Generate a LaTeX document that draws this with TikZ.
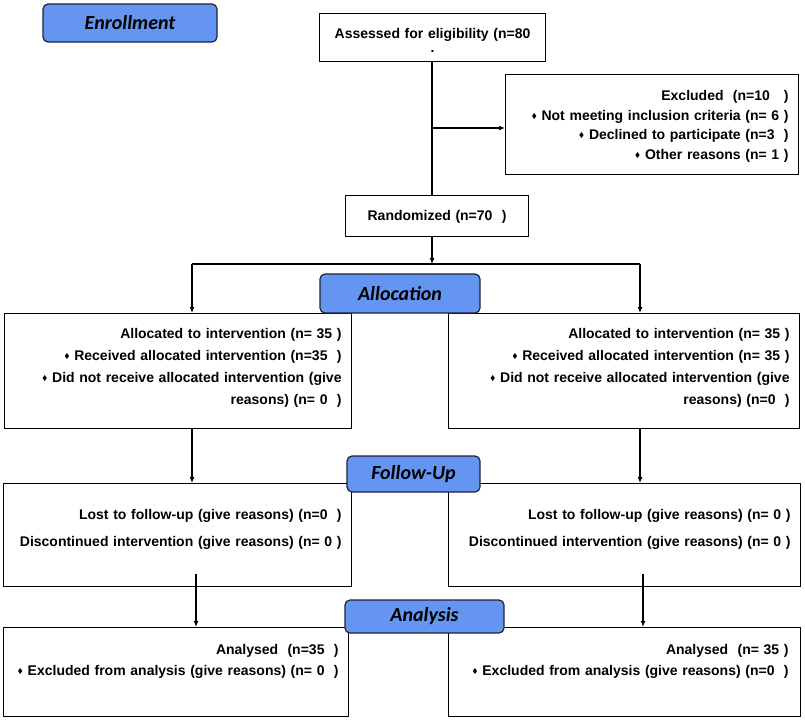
\documentclass[tikz,border=0pt]{standalone}
\usepackage{fontspec}
\usepackage{amssymb}
\setmainfont{Liberation Sans}
\newfontfamily\phasefont{Carlito}
\usetikzlibrary{arrows.meta,positioning,calc}

\definecolor{phaseblue}{RGB}{100,149,240}
\definecolor{phaseline}{RGB}{30,35,55}

\hyphenpenalty=10000
\newcommand{\bul}{\raisebox{0.25ex}{\fontsize{7}{7}\selectfont$\blacklozenge$}~}

\tikzset{
    phase/.style={draw=phaseline, fill=phaseblue, rounded corners=5pt, line width=1.2pt,
        inner sep=0pt, font=\phasefont\bfseries\itshape\fontsize{20}{22}\selectfont},
    infobox/.style={draw, line width=1.1pt, anchor=north west, align=right,
        inner xsep=10pt, inner ysep=0pt, font=\bfseries\fontsize{14}{#1}\selectfont},
    infobox/.default=22,
    link/.style={line width=1.2pt},
    arrow/.style={link, -{Latex[length=6pt,width=5pt]}}
}

\begin{document}
\begin{tikzpicture}[x=1pt,y=-1pt]

    \useasboundingbox[fill=white] (0,0) rectangle (805,720);

    % top part
    \node[infobox=14, align=center, text width=206pt, text height=25pt, text depth=23pt]
        (assess) at (319,13) {Assessed for eligibility (n=80\\ .};
    \node[infobox=19.5, text width=273pt, text height=26pt, text depth=74pt] (excl) at (505,74)
        {Excluded \ (n=10 \ \ )\\
         \bul Not meeting inclusion criteria (n= 6 )\\
         \bul Declined to participate (n=3 \ )\\
         \bul Other reasons (n= 1 )};
    \node[infobox, align=center, text width=163pt, text height=25pt, text depth=16pt]
        (rand) at (345,195) {Randomized (n=70 \ )};

    % allocation
    \node[infobox, text width=327pt, text height=25pt, text depth=90pt] (alL) at (4,313)
        {Allocated to intervention (n= 35 )\\
         \bul Received allocated intervention (n=35 \ )\\
         \bul Did not receive allocated intervention (give\\
         reasons) (n= 0 \ )\hspace*{26pt}};
    \node[infobox, text width=331pt, text height=25pt, text depth=90pt] (alR) at (448,313)
        {Allocated to intervention (n= 35 )\\
         \bul Received allocated intervention (n= 35 )\\
         \bul Did not receive allocated intervention (give\\
         reasons) (n=0 \ )\hspace*{26pt}};

    % follow-up
    \node[infobox=27, text width=328pt, text height=36pt, text depth=67pt] (fuL) at (3,483)
        {Lost to follow-up (give reasons) (n=0 \ )\\
         Discontinued intervention (give reasons) (n= 0 )};
    \node[infobox=27, text width=332pt, text height=36pt, text depth=67pt] (fuR) at (448,483)
        {Lost to follow-up (give reasons) (n= 0 )\\
         Discontinued intervention (give reasons) (n= 0 )};

    % analysis
    \node[infobox=21, text width=325pt, text height=27pt, text depth=62pt] (anL) at (3,627)
        {Analysed \ (n=35 \ )\hspace*{3pt}\\
         \bul Excluded from analysis (give reasons) (n= 0 \ )\hspace*{3pt}};
    \node[infobox=21, text width=328pt, inner xsep=12pt, text height=27pt, text depth=62pt] (anR) at (448,627)
        {Analysed \ (n= 35 )\\
         \bul Excluded from analysis (give reasons) (n=0 \ )};

    \coordinate (split) at (432,128);
    \coordinate (forkL) at (192,264);
    \coordinate (forkR) at (640,264);

    \draw[link] (split |- assess.south) -- (split |- rand.north);
    \draw[arrow] (split) -- (split -| excl.west);
    \draw[arrow] (split |- rand.south) -- (split |- forkL);
    \draw[link] (forkL) -- (forkR);
    \draw[arrow] (forkL) -- (forkL |- alL.north);
    \draw[arrow] (forkR) -- (forkR |- alR.north);
    \draw[arrow] (forkL |- alL.south) -- (forkL |- fuL.north);
    \draw[arrow] (forkR |- alR.south) -- (forkR |- fuR.north);
    \draw[arrow] ($(forkL |- fuL.south)+(4,-13)$) -- ($(forkL |- anL.north)+(4,0)$);
    \draw[arrow] ($(forkR |- fuR.south)+(3,-13)$) -- ($(forkR |- anR.north)+(3,0)$);

    % phase labels
    \node[phase, minimum width=174pt, minimum height=38pt] (enroll) at (130,23) {Enrollment};
    \node[phase, minimum width=160pt, minimum height=39pt] (alloc) at (400,293.5) {Allocation};
    \node[phase, minimum width=133pt, minimum height=36pt] (follow) at (413.5,474) {Follow-Up};
    \node[phase, minimum width=159pt, minimum height=33pt] (analysis) at (424.5,616.5) {Analysis};

\end{tikzpicture}
\end{document}
